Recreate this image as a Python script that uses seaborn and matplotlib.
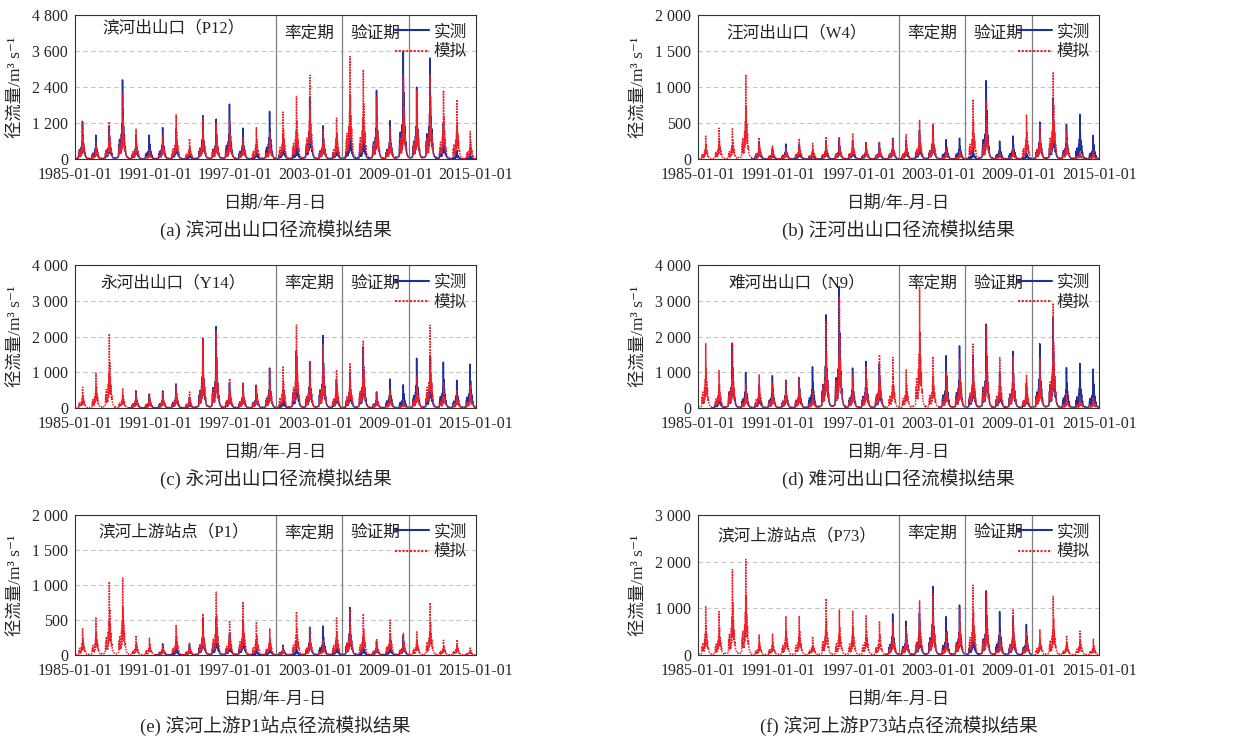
import numpy as np
import pandas as pd
import seaborn as sns
import matplotlib.pyplot as plt
import matplotlib.dates as mdates
import matplotlib.ticker as mticker
from matplotlib.lines import Line2D

# annual flood peaks (m3/s), one value per year 1985-2014
years = list(range(1985, 2015))

p12_obs = [1260, 800, 1100, 2640, 800, 800, 1050, 1000, 300, 1450, 1330, 1830, 1030, 400, 1590,
           800, 700, 2050, 1110, 700, 1500, 1300, 2290, 1280, 3590, 2400, 3370, 1200, 300, 150]
p12_sim = [1200, 530, 1250, 2200, 1000, 300, 800, 1480, 680, 1400, 1200, 1300, 700, 1050, 900,
           1570, 2090, 2800, 1000, 1370, 3420, 2980, 2100, 1100, 2780, 2300, 2800, 2290, 1980, 920]

w4_obs = [None, None, None, None, 230, 150, 210, 200, 100, 230, 290, 250, 230, 230, 290,
          250, 400, 470, 270, 290, 150, 1090, 250, 320, 100, 515, 850, 480, 620, 330]
w4_sim = [320, 430, 420, 1175, 300, 190, 150, 285, 220, 310, 300, 360, 230, 230, 280,
          340, 545, 485, 150, 120, 830, 800, 100, 150, 620, 470, 1210, 400, 100, 100]

y14_obs = [None, None, None, None, 480, 380, 480, 675, 300, 1950, 2280, 700, 700, 640, 1120,
           400, 1600, 1300, 2030, 800, 1000, 1700, 450, 810, 650, 1395, 1470, 1285, 780, 1230]
y14_sim = [580, 980, 2080, 555, 420, 420, 470, 650, 450, 1930, 2150, 830, 680, 600, 1100,
           1175, 2320, 1290, 1800, 1070, 1260, 1900, 450, 500, 200, 900, 2320, 700, 500, 650]

n9_obs = [None, 600, 1820, 1000, 640, 905, 780, 860, 1155, 2610, 3400, 1120, 1305, 1250, None,
          None, None, None, 1465, 1740, 1460, 2350, 1000, 1585, 700, 1800, 2550, 1130, 1250, 1090]
n9_sim = [1800, 1050, 1800, 650, 930, 700, 770, 870, 500, 2400, 3100, 950, 1150, 1490, 1420,
          1070, 3400, 1445, 1000, 1350, 1790, 2300, 1415, 1450, 915, 1400, 2935, 400, 300, 300]

p1_obs = [None, None, None, None, None, None, 160, 150, 150, 520, 520, 300, 500, 100, 180,
          140, 120, 385, 415, 200, 680, 150, 200, 200, 280, None, None, None, None, None]
p1_sim = [385, 540, 1050, 1100, 280, 240, 150, 430, 170, 590, 900, 495, 760, 460, 380,
          130, 620, 400, 200, 530, 640, 590, 220, 500, 310, 330, 750, 210, 220, 100]

p73_obs = [None, None, None, None, None, None, None, None, None, None, None, None, None, None, 880,
           725, 900, 1470, 820, 1070, 800, 1375, 930, 800, 655, None, None, None, None, None]
p73_sim = [1035, 930, 1830, 2050, 430, 450, 830, 840, 400, 1210, 965, 950, 840, 725, 700,
           600, 1160, 1300, 500, 1000, 1500, 1350, 500, 985, 500, 550, 1255, 420, 510, 340]

stations = ['滨河出山口（P12）', '汪河出山口（W4）', '永河出山口（Y14）',
            '难河出山口（N9）', '滨河上游站点（P1）', '滨河上游站点（P73）']
captions = ['(a) 滨河出山口径流模拟结果', '(b) 汪河出山口径流模拟结果', '(c) 永河出山口径流模拟结果',
            '(d) 难河出山口径流模拟结果', '(e) 滨河上游P1站点径流模拟结果', '(f) 滨河上游P73站点径流模拟结果']
y_max = [4800, 2000, 4000, 4000, 2000, 3000]
y_step = [1200, 500, 1000, 1000, 500, 1000]
period_lines = ['2000-01-01', '2005-01-01', '2010-01-01']
tick_years = [1985, 1991, 1997, 2003, 2009, 2015]

# shape of one year's hydrograph: (day of year, share of the annual peak)
SHAPE = [(0, 0.02), (40, 0.015), (90, 0.03), (105, 0.18), (112, 0.08), (122, 0.25), (132, 0.07),
         (148, 0.14), (160, 0.08), (172, 0.32), (182, 0.14), (192, 0.45), (198, 0.2), (203, 1.0),
         (209, 0.4), (216, 0.62), (224, 0.25), (232, 0.42), (242, 0.18), (252, 0.3), (262, 0.12),
         (275, 0.16), (290, 0.07), (320, 0.03), (365, 0.02)]
SIM_SHIFT = 4

BLUE = '#1f2f9c'
RED = '#f0202a'

sns.set_style('white')
plt.rcParams['font.family'] = ['Liberation Serif', 'Noto Sans CJK SC', 'DejaVu Serif']
plt.rcParams['axes.unicode_minus'] = False


def build(peaks, shift=0):
    rows = []
    block = 0
    prev = None
    for yr, pk in zip(years, peaks):
        if pk is None:
            prev = None
            continue
        if prev is None:
            block += 1
        prev = pk
        start = pd.Timestamp(yr, 1, 1)
        for day, share in SHAPE:
            d = day + shift if 0 < day < 365 else day
            rows.append((start + pd.Timedelta(days=d), pk * share, block))
    return pd.DataFrame(rows, columns=['date', 'q', 'block'])


obs_all = [p12_obs, w4_obs, y14_obs, n9_obs, p1_obs, p73_obs]
sim_all = [p12_sim, w4_sim, y14_sim, n9_sim, p1_sim, p73_sim]
name_y = [0.91, 0.875, 0.875, 0.875, 0.875, 0.85]

col_left = [0.0605, 0.563]
row_bottom = [0.785, 0.4486, 0.1149]
row_height = [0.1946, 0.193, 0.189]

fig = plt.figure(figsize=(12.4, 7.4), dpi=100, facecolor='white')

for i in range(6):
    r, c = divmod(i, 2)
    ax = fig.add_axes([col_left[c], row_bottom[r], 0.3234, row_height[r]])

    obs = build(obs_all[i])
    sim = build(sim_all[i], SIM_SHIFT)
    sns.lineplot(data=obs, x='date', y='q', units='block', estimator=None,
                 color=BLUE, lw=1.1, ax=ax)
    sns.lineplot(data=sim, x='date', y='q', units='block', estimator=None,
                 color=RED, lw=1.1, linestyle=(0, (1, 0.8)), ax=ax)

    for d in period_lines:
        ax.axvline(pd.Timestamp(d), color='#7f7f7f', lw=0.9)

    ax.set_xlim(pd.Timestamp('1985-01-01'), pd.Timestamp('2015-01-01'))
    ax.set_xticks([pd.Timestamp(y, 1, 1) for y in tick_years])
    ax.xaxis.set_major_formatter(mdates.DateFormatter('%Y-%m-%d'))
    ax.set_ylim(0, y_max[i])
    ax.set_yticks(np.arange(0, y_max[i] + 1, y_step[i]))
    ax.yaxis.set_major_formatter(mticker.FuncFormatter(lambda v, p: f'{int(v):,}'.replace(',', ' ')))
    ax.tick_params(length=0, labelsize=11.5)
    ax.tick_params(axis='x', pad=6)
    ax.tick_params(axis='y', pad=5)
    ax.yaxis.grid(True, linestyle=(0, (4, 3)), color='#c4c4c4', lw=0.8)
    ax.xaxis.grid(False)
    for s in ax.spines.values():
        s.set_color('#333333')
        s.set_linewidth(0.8)

    ax.set_xlabel('日期/年-月-日', fontsize=12.5, labelpad=9)
    ax.set_ylabel('径流量/m³ s⁻¹', fontsize=12.5, labelpad=5)

    ax.text(0.245, name_y[i], stations[i], transform=ax.transAxes, fontsize=12,
            ha='center', va='center', color='#222222')
    ax.text(pd.Timestamp('2002-07-02'), 0.87, '率定期', transform=ax.get_xaxis_transform(),
            fontsize=12, ha='center', va='center', color='#222222')
    ax.text(pd.Timestamp('2007-07-02'), 0.87, '验证期', transform=ax.get_xaxis_transform(),
            fontsize=12, ha='center', va='center', color='#222222')

    handles = [Line2D([0], [0], color=BLUE, lw=1.5),
               Line2D([0], [0], color=RED, lw=1.5, linestyle=(0, (1, 0.8)))]
    ax.legend(handles, ['实测', '模拟'], loc='upper right', frameon=False, fontsize=12,
              handlelength=2.0, handletextpad=0.3, borderaxespad=0.15, labelspacing=0.25)

    ax.annotate(captions[i], xy=(0.5, 0), xycoords='axes fraction', xytext=(0, -51),
                textcoords='offset points', ha='center', va='center', fontsize=13.5)

fig.savefig('out.png', dpi=100, facecolor='white')
